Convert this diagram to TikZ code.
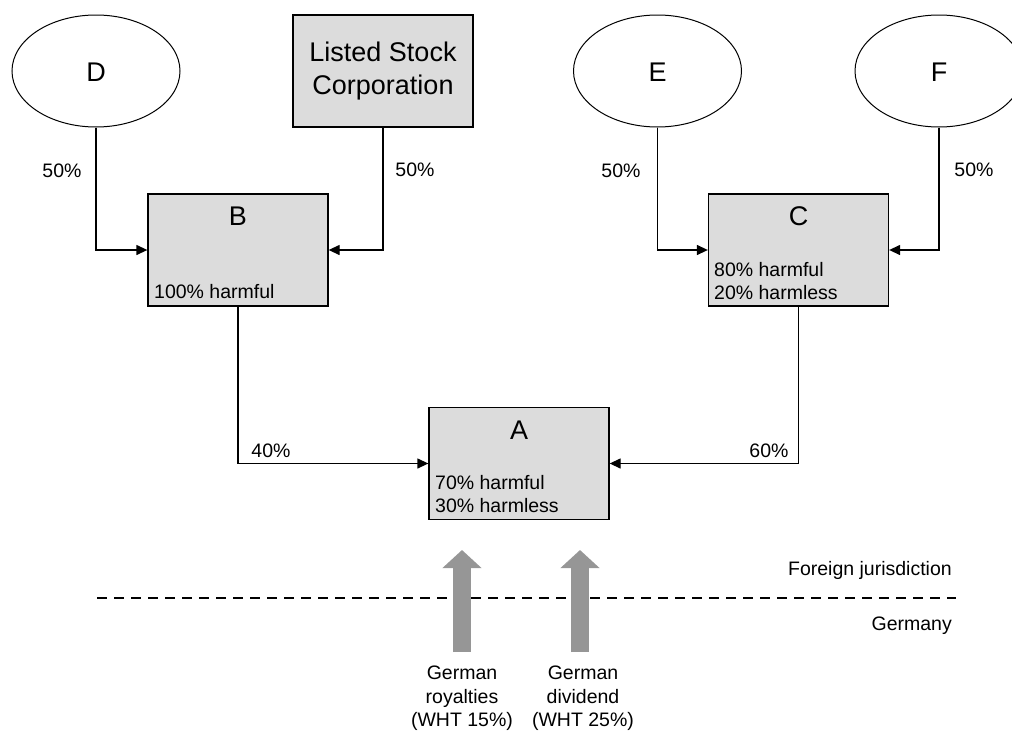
\documentclass[tikz,border=0pt]{standalone}
\usepackage{fontspec}
\setmainfont{Liberation Sans}
\usetikzlibrary{shapes.geometric,arrows.meta}
\definecolor{boxgray}{RGB}{220,220,220}
\definecolor{arrowgray}{RGB}{150,150,150}
\tikzset{
  entity/.style={draw=black,line width=1.3pt,fill=boxgray,minimum width=180pt,minimum height=112pt,inner sep=0pt},
  person/.style={draw=black,line width=1pt,ellipse,minimum width=168pt,minimum height=112pt,inner sep=0pt},
  big/.style={font=\fontsize{27}{33}\selectfont,inner sep=0pt},
  small/.style={font=\fontsize{19.5}{23.5}\selectfont,inner sep=0pt},
  conn/.style={line width=1.3pt,-{Triangle[length=11pt,width=10pt]}},
  flow/.style={draw=arrowgray,line width=18pt,-{Triangle[length=18pt,width=38pt,fill=arrowgray]}},
  border/.style={line width=2.5pt,dash pattern=on 10pt off 7pt}
}
\begin{document}
\begin{tikzpicture}[x=1pt,y=-1pt]
\useasboundingbox (0,0) rectangle (1012,731);
\clip (0,0) rectangle (1012,731);
% owners
\node[person] (D) at (96,71) {};
\node[big] (Dt) at (96,72) {D};
\node[entity] (L) at (383,71) {};
\node[big,align=center] (Lt) at (383,71.5) {Listed Stock\\Corporation};
\node[person] (E) at (657.5,71) {};
\node[big] (Et) at (657.5,72) {E};
\node[person] (F) at (939,71) {};
\node[big] (Ft) at (939,72) {F};
% intermediate
\node[entity] (B) at (238,250) {};
\node[big] (Bt) at (238,216) {B};
\node[small,anchor=west] (Bs) at (154,292) {100\% harmful};
\node[entity] (C) at (798.5,250) {};
\node[big] (Ct) at (798.5,216) {C};
\node[small,anchor=west,align=left] (Cs) at (714,281) {80\% harmful\\20\% harmless};
% target
\node[entity] (A) at (519,463.5) {};
\node[big] (At) at (519,430) {A};
\node[small,anchor=west,align=left] (As) at (435,494) {70\% harmful\\30\% harmless};
% connectors
\draw[conn] (D.south) |- (B.west);
\draw[conn] (L.south) |- (B.east);
\draw[conn] (E.south) |- (C.west);
\draw[conn] (F.south) |- (C.east);
\draw[conn] (B.south) |- (A.west);
\draw[conn] (C.south) |- (A.east);
% percentages
\node[small] (pD) at (62,171) {50\%};
\node[small] (pL) at (415,170) {50\%};
\node[small] (pE) at (621,171) {50\%};
\node[small] (pF) at (974,170) {50\%};
\node[small] (pB) at (271,451) {40\%};
\node[small] (pC) at (769,451) {60\%};
% border
\coordinate (bl) at (97,598);
\coordinate (br) at (956,598);
\draw[border] (bl) -- (br);
\node[small,anchor=east] (fj) at (952,570) {Foreign jurisdiction};
\node[small,anchor=east] (ge) at (952,626) {Germany};
% flows
\coordinate (r1b) at (462,652);
\coordinate (r1t) at (462,550);
\coordinate (r2b) at (580,652);
\coordinate (r2t) at (580,550);
\draw[flow] (r1b) -- (r1t);
\draw[flow] (r2b) -- (r2t);
\node[small,align=center] (t1) at (462,698.5) {German\\royalties\\(WHT 15\%)};
\node[small,align=center] (t2) at (583,698.5) {German\\dividend\\(WHT 25\%)};
\end{tikzpicture}
\end{document}
